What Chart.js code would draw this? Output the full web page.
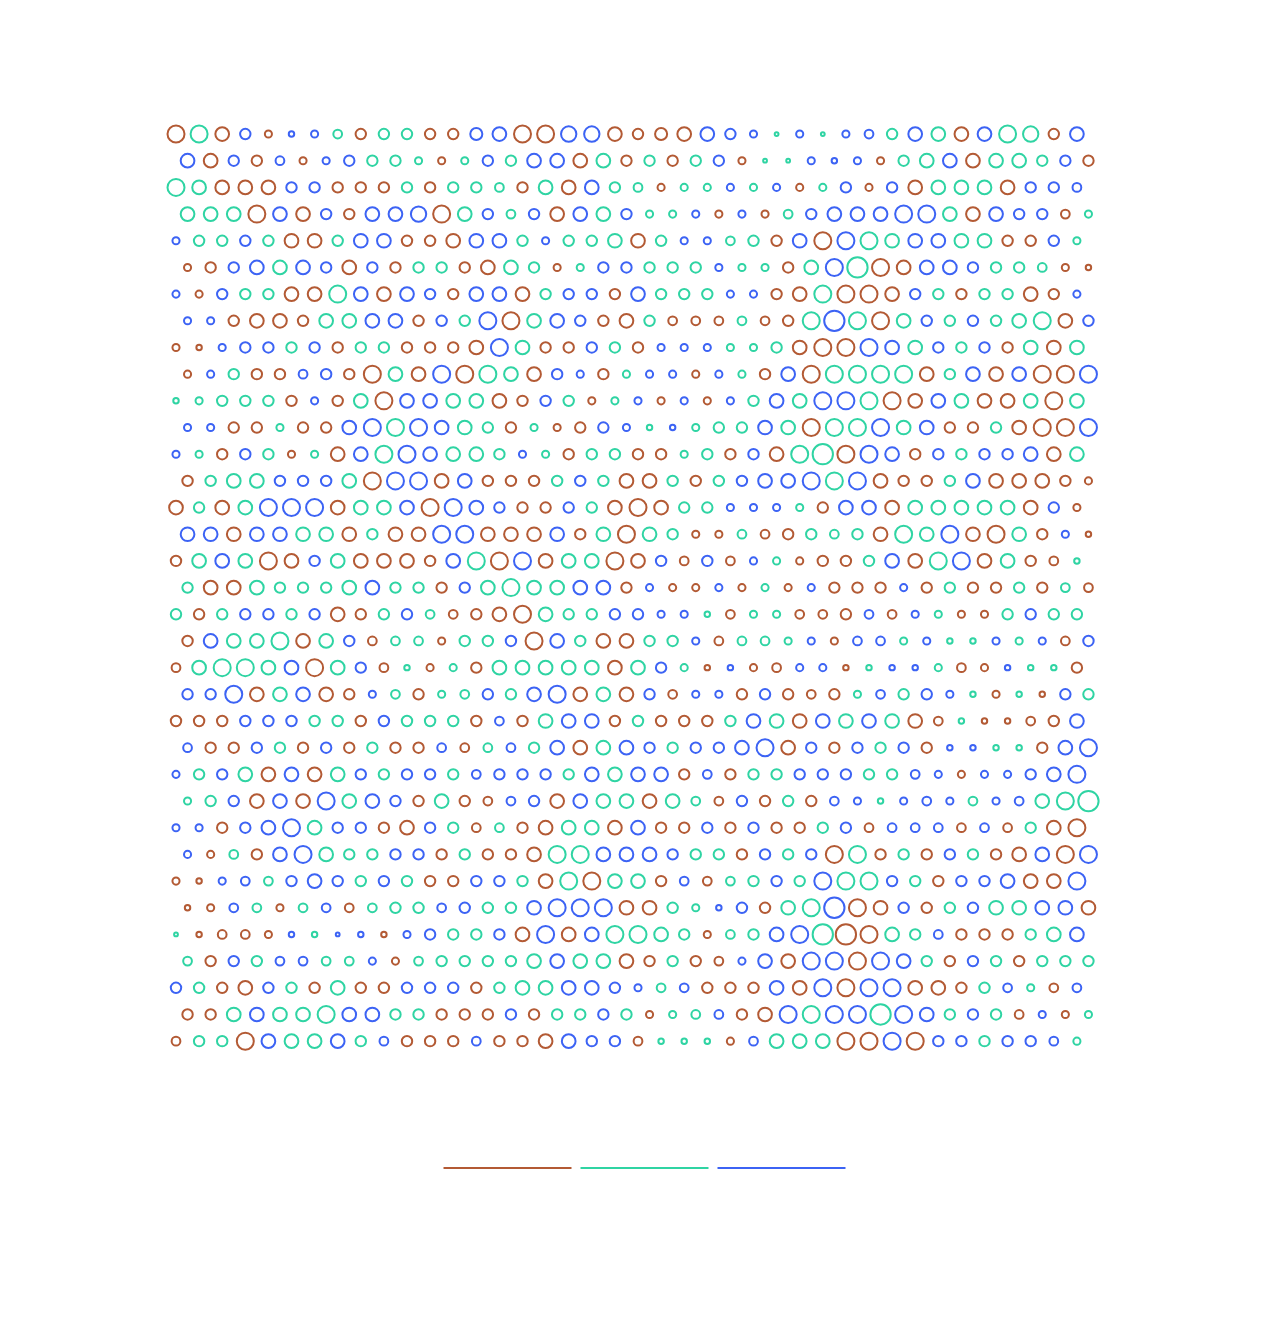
<!DOCTYPE html>
<html>
<head>
<meta charset="utf-8">
<script src="https://cdn.jsdelivr.net/npm/chart.js@4/dist/chart.umd.min.js"></script>
<style>
  html, body { margin: 0; padding: 0; background: #ffffff; }
  #wrap { width: 1286px; height: 1338px; }
</style>
</head>
<body>
<div id="wrap"><canvas id="c" width="1286" height="1338"></canvas></div>
<script>
// Series (legend order): brown, teal, blue
const seriesNames = ['', '', ''];
const seriesKeys = ['R', 'G', 'B'];

// One string per row: colour (series) of each of the 40 cells
const colorRows = [
  "RGRBRBBGRG GRRBBRRBBR RRRBBBGBGB BGBGRBGGRB",
  "BRBRBRBBGG GRGBGBBRGR GRGBRGGBBB RGGBRGGGBR",
  "GGRRRBBRRR GRGGGRGRBG GRGGBGBRGB RBRGGGRBBB",
  "GGGRBRBRBB BRGBGBRBGB GGBRBRGBBB BBBGRBBBRG",
  "BGGBGRRGBB RRRBBGBGGG RGBBGGRBRB GGBBGGRRBG",
  "RRBBGBBRBR GGRRGGRGBB GGGBGGRGBG RRBBBGGGRR",
  "BRBGGRRGBR BBRBBRGBBR BGGGBBRRGR RRBGRGGRRB",
  "BBRRRRGGBB RBGBRGBBRR GRRRGRRGBG RGBGBGGGRB",
  "RRBBBGBRGG RRRRBGRRBG RBBBGGGRRR BBGBGBRGRG",
  "RBGRRBBRRG RBRGGRBBRG BBRBGRBRGG GGRGBRBRRB",
  "GGGGGRBRGR BBGGRRBGRG BRBRBGBGBB GRRBGRRGRG",
  "BBRRGRRBBG BBGGRGRRBB GBGGGBGRGG BGBRRGRRRB",
  "BGRBGRGRBG BBGGGBGRGG RRGGRBRGGR BBRBGBBBRG",
  "RGGGBBBGRB BRBRRRGBGR RGRGBBBBGB RRRGBRRRRR",
  "RGRGBBBRGG BRBBBRRBGR RRGGBBBGRB BRGGGGGRBR",
  "BBRBBGGRGR RBBRRRBRGR GGRRGRRGGG RGGBRRGRBR",
  "RGBGRRBGRR RRBGRBRGGR RBRBRBGRRR GBRGBRGRRG",
  "GRRGGGGGBG GRBGGGGBBR BRRBRGRBRR RBRGRRGRGR",
  "GRGBBGBRRG BGRRRRGGGB BBBGRGGRRR BRBGRRGBGG",
  "RBGGGRGBRG GRGGBRBGRR GGBRGGGBRB BGBGGBGBRB",
  "RGGGGBRGBR GRGRGGGGGR GBGRBRRBBR GBBGRRBGGR",
  "BBBRGBRRBG RGGBGBBRGR BRBBRBRRRG BGBBGRGRBG",
  "RRRBBBGGRB GGGRBRGBBR GRRRGBGRBG BGRRGRRRRB",
  "BRRBGRBRGR RBRGBGBRGB BGBBBBRBRB GBRBBGGRBB",
  "BGBGRBRGBG BBGBBBBGBG BBRBRGGBBB GGBBRBBBBB",
  "GGBRBRBGBB RGRRBBRBGG RGGRBRGRBB GBBBGBBGGG",
  "BBRBBBGBBR RBGRGRRGGR BRRBRBRRGB RBBBRBRGRR",
  "BRGRBBGGGB BRGRRRGGBB BBGGRBGBRG RGRBGRRBRB",
  "RRBBGBBBGB GRRBBGRGRG GRBRGGBGBG GBGRBBBRRB",
  "RRBGRGBRGG GBBGGBBBBR RGGBBRGGBR RBRGBGGBBR",
  "GRRRRBGBBR BBGGBRBRBG GGGRGGBBGR RGGBRRRGGB",
  "GRBGBBGGBR GGGGGGBGGR RGRRBBRBBR BBGRBGRGGG",
  "BGRRBGRGRR BBBRGGGBBB BGBRRRBRBR BBRRRGBGRB",
  "RRGBGGGBBG GRRRBRGGBG RGGBRRBGBB GBBGBGRBRG",
  "RGGRBGGBGB RRRBRRRBBB RGGGRBGGGR RBRBBGBBBG"
];

// Size of each cell (same layout as colorRows)
const sizeRows = [
  [5,5,4,3,2,1.5,2,2.5,3,3, 3,3,3,3.5,4,5,5,4.5,4.5,4, 3,3.5,4,4,3,2,1,2,1,2, 2.5,3,4,4,4,4,5,4.5,3,4],
  [4,4,3,3,2.5,2,2,3,3,3, 2,2,2,3,3,4,4,4,4,3, 3,3,3,3,2,1,1,2,1.5,2, 2,3,4,4,4,4,4,3,3,3],
  [5,4,4,4,4,3,3,3,3,3, 3,3,3,3,2.5,3,4,4,4,3, 2.5,2,2,2,2,2,2,2,2,3, 2,3,4,4,4,4,4,3,3,2.5],
  [4,4,4,5,4,4,3,3,4,4, 4.5,5,4,3,2.5,3,4,4,4,3, 2,2,2,2,2,2,2.5,3,4,4, 4,5,5,4,4,4,3,3,2.5,2],
  [2,3,3,3,3,4,4,3,4,4, 3,3,4,4,4,3,2,3,3,4, 4,3,2,2,2.5,3,3,4,5,5, 5,4,4,4,4,4,3,3,3,2],
  [2,3,3,4,4,4,3,4,3,3, 3,3,3,4,4,3,2,2,3,3, 3,3,3,2,2,2,3,4,5,6, 5,4,4,4,3,3,3,2.5,2,1.5],
  [2,2,3,3,3,4,4,5,4,4, 4,3,3,4,4,4,3,3,3,3, 4,3,3,3,2,2,3,4,5,5, 5,4,3,3,3,3,3,4,3,2],
  [2,2,3,4,4,3,4,4,4,4, 3,3,3,5,5,4,4,3,3,4, 3,2.5,2.5,2.5,2.5,2.5,3,5,6,5, 5,4,3,3,3,3,4,5,4,3],
  [2,1.5,2,3,3,3,3,3,3,3, 3,3,3,4,5,4,3,3,3,3, 3,2,2,2,2,2,3,4,5,5, 5,4,4,3,3,3,3,4,4,4],
  [2,2,3,3,3,2.5,3,3,5,4, 4,5,5,5,4,4,3,2,3,2, 2,2,2,2,2,3,4,5,5,5, 5,5,4,3,4,4,4,5,5,5],
  [1.5,2,3,3,3,3,2,3,4,5, 4,4,4,4,4,3,3,3,2,2, 2,2,2,2,2,3,4,4,5,5, 5,5,4,4,4,4,4,4,5,4],
  [2,2,3,3,2,3,3,4,5,5, 5,4,4,3,3,2,2,3,3,2, 1.5,1.5,2,3,3,4,4,5,5,5, 5,4,4,3,3,3,4,5,5,5],
  [2,2,3,3,3,2,2,4,4,5, 5,4,4,4,3,2,2,3,3,3, 3,3,2,3,3,3,4,5,6,5, 5,4,3,3,3,3,3,4,4,4],
  [3,3,4,4,3,3,3,4,5,5, 5,4,4,3,3,3,3,3,3,4, 4,3,3,3,3,4,4,5,5,5, 4,3,3,3,4,4,4,4,3,2],
  [4,3,4,4,5,5,5,4,4,4, 4,5,5,4,3,3,3,3,3,4, 5,4,3,3,2,2,2,2,3,4, 4,4,4,4,4,4,4,4,3,2],
  [4,4,4,4,4,4,4,4,3,4, 4,5,5,4,4,4,4,3,4,5, 4,3,2,2,2.5,2.5,3,3,2.5,3, 4,5,4,5,4,5,4,3,2,1.5],
  [3,4,4,4,5,4,3,4,4,4, 4,3,4,5,5,5,4,4,4,5, 4,3,2.5,3,2.5,2,2,2,3,3, 3,4,4,5,5,4,4,3,2.5,1.5],
  [3,4,4,4,3,3,3,4,4,3, 3,3,3,4,5,4,4,4,4,3, 2,2,2,2,2,2,2,2,3,3, 3,2,3,3,3,3,3,3,2.5,2.5],
  [3,3,3,3,3,3,3,4,3,3, 3,2.5,2.5,3,4,5,4,3,3,3, 3,2,2,1.5,2.5,2,2,2.5,2.5,3, 2.5,2.5,2,2,2,2,3,3,3,3],
  [3,4,4,4,5,4,4,3,2.5,2.5, 2.5,2,3,3,3,5,4,3,4,4, 3,3,2,2.5,2.5,2.5,2,2,2,2.5, 2.5,2,2,1.5,1.5,2,2,2,2.5,3],
  [2.5,4,5,5,4,4,5,4,3,2.5, 1.5,2,2,3,4,4,4,4,4,4, 4,3,2,1.5,1.5,2,2.5,2,2,1.5, 1.5,1.5,1.5,2,2.5,2,1.5,1.5,1.5,3],
  [3,3,5,4,4,4,4,3,2,2.5, 3,2,2.5,3,3,4,5,4,4,4, 3,2.5,2,2,3,3,3,2.5,3,2, 2.5,3,3,2,1.5,2,1.5,1.5,3,3],
  [3,3,3,3,3,3,3,3,3,3, 3,3,3,3,2.5,3,4,4,4,3, 3,3,3,3,3,4,4,4,4,4, 4,4,4,2.5,1.5,1.5,1.5,2.5,3,4],
  [2.5,3,3,3,3,3,3,3,3,3, 3,2.5,2.5,2.5,2.5,3,4,4,4,4, 3,3,3,3,4,5,4,3,3,3, 3,3,3,1.5,1.5,1.5,1.5,3,4,5],
  [2,3,3,4,4,4,4,4,3,3, 3,3,3,2.5,3,3,3,3,4,4, 4,4,3,2.5,3,3,3,3,3,3, 3,3,2.5,2,2,2,2,3,4,5],
  [2,3,3,4,4,4,5,4,4,3, 3,4,3,2.5,2.5,3,4,4,4,4, 4,4,2.5,2.5,3,3,3,3,2.5,2, 1.5,2,2.5,2,2.5,2,2.5,4,5,6],
  [2,2,3,3,4,5,4,3,3,3, 4,3,3,2.5,2.5,3,4,4,4,4, 4,3,3,3,3,3,3,3,3,3, 2.5,2.5,2.5,2.5,2.5,2.5,2.5,3,4,5],
  [2,2,2.5,3,4,5,4,3,3,3, 3,3,3,3,3,4,5,5,4,4, 4,3,3,3,3,3,3,3,5,5, 3,3,3,3,3,3,4,4,5,5],
  [2,1.5,2,2.5,2.5,3,4,3,3,3, 3,3,3,3,3,3,4,5,5,4, 4,3,2.5,2.5,2.5,3,3,3,5,5, 5,3,3,3,3,3,4,4,4,5],
  [1.5,2,2.5,2.5,2,2.5,2.5,2.5,2.5,3, 3,2.5,3,3,3,4,5,5,5,4, 4,3,2,1.5,3,3,4,5,6,5, 4,3,3,3,3,4,4,4,4,4],
  [1,1.5,2.5,2.5,2,1.5,1.5,1,1.5,1.5, 2,3,3,3,3,4,5,4,4,5, 5,4,3,2,2.5,3,4,5,6,6, 5,4,3,2.5,3,3,3,3,4,4],
  [2.5,3,3,3,2.5,2.5,2.5,2.5,2,2, 2.5,3,3,3,3,4,4,4,4,4, 3,3,3,2.5,2,4,4,5,5,5, 5,4,3,3,3,3,3,3,3,3],
  [3,3,3,4,3,3,3,4,3,3, 3,3,3,3,3,4,4,4,4,3, 2,2.5,2.5,3,3,3,4,4,5,5, 5,5,4,4,3,3,2.5,2,2.5,2.5],
  [3,3,4,4,4,4,5,4,4,3, 3,3,3,3,3,3,3,3,3,3, 2,2,2.5,2.5,3,4,5,5,5,5, 6,5,4,3,3,3,2.5,2,2,2],
  [2.5,3,3,5,4,4,4,4,3,2.5, 3,3,3,2.5,3,3,4,4,3,3, 2.5,1.5,1.5,1.5,2,2.5,4,4,4,5, 5,5,5,3,3,3,3,3,2.5,2]
];

// ---- styling / layout (not data) ----
const seriesColors = ['#b35a34', '#2fd4a3', '#3c63f4'];
const W = 1286, H = 1338;
const COL_STEP = 23.1, ROW_STEP = 26.68;
const FIRST_X = 176;
const PAD_L = 173.5, PAD_R = 164.5, PAD_T = 120.7, PAD_B = 154, LEGEND_H = 25;
const radiusOf = v => 0.25 + 1.65 * v;

const datasets = seriesKeys.map((k, s) => ({
  label: seriesNames[s],
  data: [],
  borderColor: seriesColors[s],
  backgroundColor: 'rgba(0,0,0,0)',
  borderWidth: 2,
  hoverBorderWidth: 2,
  clip: false
}));

colorRows.forEach((row, i) => {
  const cells = row.replace(/\s/g, '').split('');
  cells.forEach((c, j) => {
    const s = seriesKeys.indexOf(c);
    datasets[s].data.push({ x: j + (i % 2 ? 0.5 : 0), y: i, r: radiusOf(sizeRows[i][j]) });
  });
});

const xMin = -(FIRST_X - PAD_L) / COL_STEP;
const xMax = xMin + (W - PAD_L - PAD_R) / COL_STEP;
const yMax = -0.5 + (H - PAD_T - PAD_B - LEGEND_H) / ROW_STEP;

new Chart(document.getElementById('c'), {
  type: 'bubble',
  data: { datasets },
  options: {
    responsive: false,
    animation: false,
    devicePixelRatio: 1,
    layout: { padding: { left: PAD_L, right: PAD_R, top: PAD_T, bottom: PAD_B } },
    scales: {
      x: { type: 'linear', min: xMin, max: xMax, display: false },
      y: { type: 'linear', min: -0.5, max: yMax, reverse: true, display: false }
    },
    plugins: {
      legend: {
        display: true,
        position: 'bottom',
        labels: { boxWidth: 128, boxHeight: 0, padding: 3, font: { size: 12 } }
      },
      tooltip: { enabled: false }
    }
  }
});
</script>
</body>
</html>
